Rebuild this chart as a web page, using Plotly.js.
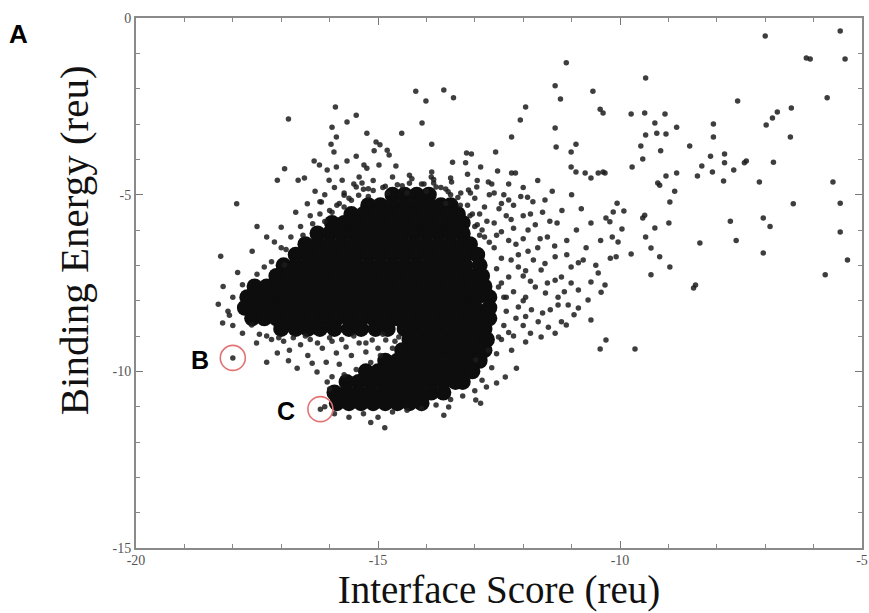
<!DOCTYPE html>
<html>
<head>
<meta charset="utf-8">
<script src="https://cdn.plot.ly/plotly-3.0.1.min.js"></script>
<style>html,body{margin:0;padding:0;background:#fff;}#chart{width:869px;height:613px;}</style>
</head>
<body>
<div id="chart"></div>
<script>
// ---- Axis tick values ----
const xTicks = [-20, -15, -10, -5];
const yTicks = [-15, -10, -5, 0];

// ---- Dense (saturated) core of the point cloud: one y per row, x values along that row ----
const coreRowY = [-5.0, -5.3, -5.55, -5.8, -6.1, -6.4, -6.7, -7.0, -7.3, -7.6, -7.9, -8.2, -8.5, -8.8, -8.8, -9.1, -9.4, -9.7, -10.0, -10.3, -10.6, -10.9];
const coreRowX = [
  [-14.7,-14.45,-14.2,-13.95],
  [-15.2,-14.95,-14.7,-14.45,-14.2,-13.95,-13.7,-13.5],
  [-15.55,-15.3,-15.05,-14.8,-14.55,-14.3,-14.05,-13.8,-13.55,-13.35],
  [-15.95,-15.7,-15.45,-15.2,-14.95,-14.7,-14.45,-14.2,-13.95,-13.7,-13.45,-13.25],
  [-16.25,-16.0,-15.75,-15.5,-15.25,-15.0,-14.75,-14.5,-14.25,-14.0,-13.75,-13.5,-13.25],
  [-16.5,-16.25,-16.0,-15.75,-15.5,-15.25,-15.0,-14.75,-14.5,-14.25,-14.0,-13.75,-13.5,-13.25,-13.1],
  [-16.7,-16.45,-16.2,-15.95,-15.7,-15.45,-15.2,-14.95,-14.7,-14.45,-14.2,-13.95,-13.7,-13.45,-13.2,-12.95],
  [-16.95,-16.7,-16.45,-16.2,-15.95,-15.7,-15.45,-15.2,-14.95,-14.7,-14.45,-14.2,-13.95,-13.7,-13.45,-13.2,-12.9],
  [-17.1,-16.85,-16.6,-16.35,-16.1,-15.85,-15.6,-15.35,-15.1,-14.85,-14.6,-14.35,-14.1,-13.85,-13.6,-13.35,-13.1,-12.85],
  [-17.55,-17.3,-17.05,-16.8,-16.55,-16.3,-16.05,-15.8,-15.55,-15.3,-15.05,-14.8,-14.55,-14.3,-14.05,-13.8,-13.55,-13.3,-13.05,-12.8],
  [-17.7,-17.45,-17.2,-16.95,-16.7,-16.45,-16.2,-15.95,-15.7,-15.45,-15.2,-14.95,-14.7,-14.45,-14.2,-13.95,-13.7,-13.45,-13.2,-12.95,-12.7],
  [-17.75,-17.5,-17.25,-17.0,-16.75,-16.5,-16.25,-16.0,-15.75,-15.5,-15.25,-15.0,-14.75,-14.5,-14.25,-14.0,-13.75,-13.5,-13.25,-13.0,-12.7],
  [-17.6,-17.35,-17.1,-16.85,-16.6,-16.35,-16.1,-15.85,-15.6,-15.35,-15.1,-14.85,-14.6,-14.35,-14.1,-13.85,-13.6,-13.35,-13.1,-12.85,-12.7],
  [-17.0,-16.7,-16.45,-16.2,-15.9,-15.6,-15.35,-15.05,-14.8],
  [-14.45,-14.3,-14.05,-13.8,-13.55,-13.3,-13.05,-12.8],
  [-14.35,-14.2,-13.95,-13.7,-13.45,-13.2,-12.95,-12.75],
  [-14.5,-14.25,-14.0,-13.75,-13.5,-13.25,-13.0,-12.8],
  [-14.85,-14.6,-14.35,-14.1,-13.85,-13.6,-13.35,-13.1,-12.9],
  [-15.25,-15.0,-14.75,-14.5,-14.25,-14.0,-13.75,-13.5,-13.25,-13.05],
  [-15.65,-15.4,-15.15,-14.9,-14.65,-14.4,-14.15,-13.9,-13.65,-13.4,-13.25],
  [-15.9,-15.65,-15.4,-15.15,-14.9,-14.65,-14.4,-14.15,-13.9,-13.65],
  [-15.85,-15.6,-15.35,-15.1,-14.85,-14.6,-14.35,-14.1]
];

// ---- Individual points [interface score, binding energy] ----
const ptsUpperRight = [[-7.00,-0.51],[-5.45,-0.37],[-6.15,-1.13],[-6.07,-1.16],[-5.35,-1.16],[-9.47,-1.70],[-7.57,-2.35],[-5.72,-2.26],[-6.46,-2.55],[-6.75,-2.66],[-6.85,-2.83],[-6.98,-3.03],[-10.35,-2.69],[-9.77,-2.72],[-9.49,-2.69],[-9.07,-2.72],[-9.28,-2.97],[-8.07,-3.00],[-8.83,-3.09],[-9.47,-3.31],[-9.24,-3.26],[-9.05,-3.28],[-8.07,-3.37],[-6.48,-3.37],[-9.57,-3.62],[-8.56,-3.62],[-9.16,-3.76],[-8.13,-3.91],[-7.84,-3.85],[-9.53,-3.99],[-7.84,-4.10],[-7.39,-4.05],[-7.43,-4.10],[-6.83,-4.08],[-9.75,-4.22],[-10.35,-4.36],[-8.31,-4.19],[-8.09,-4.36],[-7.65,-4.30],[-8.40,-4.47],[-9.05,-4.47],[-8.83,-4.39],[-7.86,-4.61],[-7.12,-4.64],[-5.60,-4.64],[-9.22,-4.67],[-9.18,-4.73],[-8.87,-4.90],[-8.97,-5.21],[-10.06,-5.24],[-6.42,-5.26],[-5.45,-5.24],[-9.92,-5.46],[-10.14,-5.49],[-10.29,-5.66],[-10.21,-5.77],[-9.53,-5.66],[-9.49,-5.58],[-8.99,-5.80],[-7.72,-5.75],[-7.04,-5.66],[-9.96,-5.97],[-9.28,-5.94],[-10.16,-6.20],[-10.04,-6.34],[-9.47,-6.20],[-8.35,-6.37],[-9.36,-6.51]];
const ptsUpperMid = [[-11.11,-1.27],[-13.64,-2.04],[-13.44,-2.26],[-11.34,-1.92],[-11.23,-2.29],[-10.56,-2.07],[-10.41,-2.58],[-11.95,-2.52],[-12.06,-2.89],[-11.34,-3.11],[-12.24,-3.37],[-11.32,-3.65],[-10.91,-3.57],[-11.01,-3.79],[-12.57,-3.79],[-13.89,-3.57],[-13.46,-4.08],[-13.19,-4.10],[-13.17,-3.82],[-13.07,-3.85],[-12.88,-4.22],[-12.53,-4.33],[-12.24,-4.39],[-12.16,-4.39],[-13.15,-4.42],[-12.72,-4.64],[-12.65,-4.70],[-11.01,-4.22],[-10.91,-4.36],[-10.72,-4.39],[-10.60,-4.53],[-10.45,-4.39],[-10.31,-4.39],[-13.89,-4.36],[-13.85,-4.67],[-13.50,-4.53],[-13.48,-4.64],[-13.29,-4.95],[-13.13,-4.87],[-13.09,-4.95],[-12.96,-4.78],[-11.91,-5.07]];
const ptsUpperLeft = [[-16.85,-2.86],[-15.88,-2.52],[-15.95,-3.09],[-15.64,-2.94],[-15.45,-2.75],[-15.86,-3.37],[-15.97,-3.57],[-15.91,-3.79],[-15.23,-3.26],[-15.04,-3.51],[-14.96,-3.59],[-15.08,-3.76],[-14.81,-3.74],[-14.77,-3.88],[-14.51,-3.26],[-14.22,-2.07],[-14.01,-2.35],[-14.09,-2.97],[-15.45,-3.91],[-16.32,-4.05],[-16.21,-4.16],[-16.93,-4.27],[-17.08,-4.59],[-16.65,-4.59],[-16.52,-4.53],[-16.05,-4.30],[-15.86,-4.22],[-15.64,-4.05],[-15.29,-4.16],[-15.23,-4.25],[-14.98,-4.16],[-14.63,-4.19],[-17.92,-5.26],[-16.46,-5.26],[-17.00,-5.92],[-17.14,-6.34],[-18.25,-6.74],[-16.93,-6.99],[-16.17,-5.21],[-16.01,-4.59],[-15.74,-4.59],[-15.39,-4.50],[-15.33,-4.67]];
const ptsTopDense = [[-16.35,-5.82],[-16.1,-5.76],[-16.2,-5.55],[-15.95,-5.5],[-15.7,-5.35],[-15.85,-5.3],[-15.55,-5.16],[-15.4,-5.02],[-15.7,-5.02],[-15.1,-4.88],[-14.85,-4.76],[-14.6,-4.72],[-14.35,-4.68],[-14.05,-4.7],[-13.8,-4.78],[-13.55,-4.92],[-13.35,-5.08],[-13.15,-5.3],[-13.05,-5.55],[-12.95,-5.85],[-12.9,-6.15],[-15.45,-4.78],[-15.2,-4.83],[-14.35,-4.45],[-13.85,-4.57],[-13.6,-4.84],[-13.0,-5.1],[-12.8,-5.35],[-12.75,-5.75],[-12.55,-6.15],[-12.3,-5.15],[-12.15,-6.4],[-12.95,-4.6],[-12.3,-4.7],[-11.7,-4.6],[-12.6,-4.95],[-11.85,-5.55]];
const ptsCloudEdge = [[-16.3,-4.9],[-16.1,-5.0],[-15.9,-4.8],[-15.7,-4.95],[-15.5,-4.7],[-15.3,-4.85],[-15.1,-4.6],[-14.9,-4.8],[-14.7,-4.5],[-14.5,-4.75],[-14.3,-4.55],[-14.1,-4.7],[-13.9,-4.5],[-13.7,-4.8],[-13.5,-5.0],[-13.3,-5.3],[-13.1,-5.6],[-13.0,-5.9],[-12.8,-6.2],[-12.6,-6.5],[-12.45,-6.8],[-15.8,-5.25],[-16.0,-5.45],[-16.4,-5.6],[-16.6,-5.9],[-16.8,-6.2],[-17.0,-6.5],[-17.2,-6.9],[-17.5,-7.25],[-17.8,-7.55],[-18.0,-7.9],[-18.1,-8.3],[-18.0,-8.7],[-15.6,-5.1],[-15.2,-5.05],[-14.8,-4.95],[-14.4,-4.95],[-14.0,-4.9],[-13.6,-5.25],[-16.2,-5.2],[-16.7,-5.5],[-17.3,-6.2],[-17.6,-6.6],[-17.9,-7.2],[-18.2,-7.6],[-18.3,-8.1],[-17.5,-5.9],[-17.35,-7.05],[-16.9,-6.55],[-16.55,-6.15],[-12.55,-7.1],[-12.45,-7.5],[-12.4,-7.9],[-12.35,-8.3],[-12.4,-8.7],[-12.45,-9.1],[-12.55,-9.5],[-12.65,-9.9],[-12.85,-10.25],[-13.0,-10.55]];
const ptsGapBand = [[-18.21,-8.63],[-18.07,-8.41],[-17.61,-8.69],[-17.80,-8.92],[-17.51,-9.20],[-17.30,-9.74],[-17.08,-9.48],[-16.83,-9.40],[-16.67,-9.91],[-16.36,-9.77],[-16.26,-10.02],[-16.07,-9.74],[-15.86,-9.48],[-15.66,-9.31],[-15.39,-9.20],[-15.12,-9.11],[-14.84,-9.11],[-14.57,-9.03],[-17.2,-9.1],[-16.95,-9.15],[-16.6,-9.25],[-16.4,-9.1],[-16.15,-9.35],[-15.95,-9.15],[-15.55,-9.55],[-15.25,-9.45],[-15.0,-9.35],[-16.45,-9.55],[-16.85,-9.7],[-15.8,-9.8],[-17.45,-8.95],[-16.0,-10.5],[-16.05,-10.3],[-17.3,-9.0],[-17.05,-9.05],[-16.75,-9.05],[-16.5,-9.0],[-16.25,-9.2],[-16.0,-9.05],[-15.75,-9.1],[-15.5,-9.0],[-15.25,-9.2],[-14.95,-9.55],[-15.15,-9.75],[-15.45,-9.95],[-15.7,-10.1],[-15.95,-10.15],[-14.7,-9.35],[-14.9,-8.95],[-14.65,-9.15],[-18.0,-9.62],[-16.19,-11.07]];
const ptsLowerEdge = [[-16.1,-11.0],[-15.9,-11.2],[-15.6,-11.3],[-15.3,-11.2],[-15.0,-11.3],[-14.7,-11.15],[-14.4,-11.1],[-14.1,-11.05],[-13.8,-10.95],[-13.5,-10.8],[-13.25,-10.7],[-14.86,-11.60],[-15.15,-11.45],[-13.64,-11.24],[-13.54,-11.01],[-12.88,-10.90],[-12.98,-10.81],[-12.76,-10.44],[-12.55,-10.33],[-12.37,-10.16],[-12.14,-9.91]];
const ptsRightEdge = [[-11.34,-6.76],[-10.76,-6.85],[-10.86,-6.93],[-11.01,-7.05],[-10.31,-7.56],[-10.39,-7.76],[-10.60,-8.55],[-10.29,-9.11],[-10.41,-9.37],[-9.69,-9.37],[-9.36,-7.27],[-8.44,-7.56],[-10.08,-6.76],[-9.77,-6.68],[-9.18,-6.76],[-11.21,-8.60],[-11.11,-8.69],[-10.86,-8.21],[-10.66,-7.98],[-11.44,-8.26],[-11.28,-8.12],[-11.54,-7.78],[-11.95,-9.17],[-12.98,-9.68],[-12.72,-9.40],[-12.51,-9.03],[-12.24,-9.40],[-11.85,-8.92],[-11.69,-8.60],[-11.83,-8.26],[-11.48,-8.75],[-11.63,-9.03],[-11.34,-8.92],[-12.10,-8.18],[-11.95,-7.90],[-11.75,-7.61],[-11.34,-7.42],[-11.21,-7.33],[-11.63,-7.13],[-11.01,-7.50],[-10.86,-7.70],[-10.45,-7.22],[-10.60,-7.47],[-11.28,-7.90],[-11.07,-8.12],[-11.79,-6.85],[-12.10,-7.05],[-12.30,-7.33],[-12.51,-7.61],[-12.2,-7.75],[-12.15,-8.5],[-12.0,-8.7],[-12.2,-9.0],[-12.0,-7.3],[-11.9,-6.6]];
const ptsMidRight = [[-12.4,-5.0],[-12.2,-5.3],[-12.0,-5.6],[-11.8,-5.2],[-11.6,-5.5],[-11.9,-6.0],[-11.5,-6.2],[-11.3,-5.8],[-11.1,-6.3],[-11.7,-6.5],[-12.3,-6.3],[-12.1,-6.7],[-11.0,-5.0],[-10.8,-5.4],[-10.6,-5.8],[-10.4,-6.3],[-12.6,-5.8],[-12.5,-5.4],[-12.7,-5.0],[-12.0,-4.8],[-11.4,-4.9],[-10.9,-6.0],[-11.2,-5.45],[-12.9,-5.55],[-12.85,-6.0],[-12.7,-6.35],[-12.45,-6.05],[-12.2,-5.95],[-12.35,-5.6],[-12.45,-5.25],[-12.25,-5.7],[-12.05,-5.05],[-11.75,-5.85],[-11.55,-5.15],[-11.45,-5.75],[-11.65,-6.25],[-11.35,-6.45],[-12.0,-6.25],[-12.25,-6.85],[-11.95,-7.15],[-11.55,-6.95],[-12.35,-7.9],[-11.85,-7.45],[-11.5,-7.5],[-12.0,-8.0],[-11.6,-8.35],[-12.3,-8.9],[-11.95,-8.45],[-11.15,-7.75],[-10.95,-8.4],[-11.1,-6.7],[-10.7,-6.5],[-10.5,-7.0],[-10.2,-6.8]];
const ptsLowerRight = [[-7.04,-6.65],[-5.76,-7.27],[-5.45,-6.06],[-5.30,-6.85],[-8.48,-7.64],[-8.97,-7.05],[-7.6,-6.3],[-6.9,-5.9]];

// ---- Highlighted models ----
const markLabels = ["B", "C"];
const markX = [-18.0, -16.19];
const markY = [-9.62, -11.07];

// ---- Build traces ----
const coreX = [], coreY = [];
coreRowX.forEach((row, i) => row.forEach(v => { coreX.push(v); coreY.push(coreRowY[i]); }));
const allPts = [].concat(ptsUpperRight, ptsUpperMid, ptsUpperLeft, ptsTopDense, ptsCloudEdge, ptsGapBand, ptsLowerEdge, ptsRightEdge, ptsMidRight, ptsLowerRight);
const ptX = allPts.map(p => p[0]);
const ptY = allPts.map(p => p[1]);

const traces = [
  {x: coreX, y: coreY, type: 'scatter', mode: 'markers', hoverinfo: 'skip',
   marker: {size: 16, color: '#0d0d0d', line: {width: 0}}},
  {x: ptX, y: ptY, type: 'scatter', mode: 'markers',
   marker: {size: 5.5, color: '#1c1c1c', opacity: 0.85, line: {width: 0}}},
  {x: markX, y: markY, type: 'scatter', mode: 'markers',
   marker: {symbol: 'circle-open', size: 25, color: '#e27374', line: {width: 1.6, color: '#e27374'}}}
];

const serif = 'Liberation Serif, Times New Roman, serif';
const sans = 'Liberation Sans, Arial, sans-serif';

const axisCommon = {
  showgrid: false, zeroline: false, showline: true, linecolor: '#8a8a8a', linewidth: 2,
  mirror: 'ticks', ticks: 'inside', ticklen: 7, tickwidth: 1, tickcolor: '#777',
  tickfont: {family: serif, size: 14, color: '#555'},
  minor: {ticks: 'inside', dtick: 1, ticklen: 4, tickwidth: 1, tickcolor: '#888'}
};

const layout = {
  width: 869, height: 613,
  margin: {l: 136, r: 7, t: 18, b: 65},
  paper_bgcolor: '#fff', plot_bgcolor: '#fff',
  showlegend: false,
  xaxis: Object.assign({}, axisCommon, {
    range: [-20, -5], tickvals: xTicks, ticktext: xTicks.map(String), ticklabelstandoff: -2,
    title: {text: 'Interface Score (reu)', font: {family: serif, size: 39, color: '#111'}, standoff: 3}
  }),
  yaxis: Object.assign({}, axisCommon, {
    range: [-15, 0], tickvals: yTicks, ticktext: yTicks.map(String)
  }),
  annotations: [
    {text: 'Binding Energy (reu)', xref: 'paper', yref: 'paper', x: -0.085, y: 0.581,
     xanchor: 'center', yanchor: 'middle', textangle: -90, showarrow: false,
     font: {family: serif, size: 41, color: '#111'}},
    {text: '<b>A</b>', xref: 'paper', yref: 'paper', x: (18 - 136) / 726, y: (548 - 34) / 530,
     xanchor: 'center', yanchor: 'middle', showarrow: false, font: {family: sans, size: 26, color: '#000'}},
    {text: '<b>' + markLabels[0] + '</b>', x: markX[0], y: markY[0], xref: 'x', yref: 'y',
     xshift: -33, yshift: -2, showarrow: false, font: {family: sans, size: 25, color: '#000'}},
    {text: '<b>' + markLabels[1] + '</b>', x: markX[1], y: markY[1], xref: 'x', yref: 'y',
     xshift: -34, yshift: -2, showarrow: false, font: {family: sans, size: 25, color: '#000'}}
  ]
};

Plotly.newPlot('chart', traces, layout, {displayModeBar: false, staticPlot: true});
</script>
</body>
</html>
